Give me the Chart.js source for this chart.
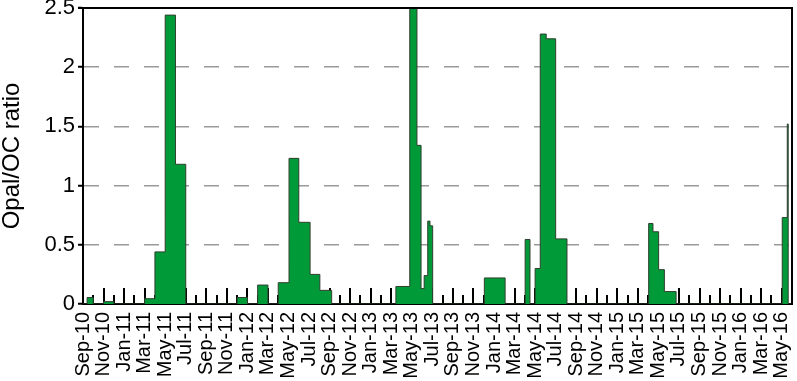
<!DOCTYPE html>
<html>
<head>
<meta charset="utf-8">
<script src="https://cdn.jsdelivr.net/npm/chart.js@4.4.0/dist/chart.umd.min.js"></script>
<style>
html, body { margin: 0; padding: 0; background: #fff; }
#wrap { width: 797px; height: 381px; }
</style>
</head>
<body>
<div id="wrap"><canvas id="ratioChart"></canvas></div>
<script>
// x axis is in months counted from Sep-10 (0) to Jun-16 (69)
const monthLabels = [
    'Sep-10', 'Nov-10', 'Jan-11', 'Mar-11', 'May-11', 'Jul-11', 'Sep-11', 'Nov-11',
    'Jan-12', 'Mar-12', 'May-12', 'Jul-12', 'Sep-12', 'Nov-12', 'Jan-13', 'Mar-13',
    'May-13', 'Jul-13', 'Sep-13', 'Nov-13', 'Jan-14', 'Mar-14', 'May-14', 'Jul-14',
    'Sep-14', 'Nov-14', 'Jan-15', 'Mar-15', 'May-15', 'Jul-15', 'Sep-15', 'Nov-15',
    'Jan-16', 'Mar-16', 'May-16'
];
const yTicks = [0, 0.5, 1, 1.5, 2, 2.5];

// one entry per trap sample: open / close (months) and Opal/OC ratio
const sampleStart = [
    0.4, 2.0, 6.0, 7.0, 8.0, 9.0, 15.0, 17.0, 19.0, 20.05, 21.0, 22.1, 23.05,
    30.45, 31.8, 32.5, 32.9, 33.2, 33.55, 33.77, 39.06, 43.03, 44.0, 44.5, 45.08, 46.0,
    55.05, 55.47, 56.02, 56.58, 68.05, 68.54
];
const sampleEnd = [
    1.0, 3.0, 7.0, 8.0, 9.0, 10.0, 16.0, 18.0, 20.05, 21.0, 22.1, 23.05, 24.2,
    31.8, 32.5, 32.9, 33.2, 33.55, 33.77, 34.03, 41.08, 43.5, 44.5, 45.08, 46.0, 47.1,
    55.47, 56.02, 56.58, 57.72, 68.54, 68.63
];
const opalOcRatio = [
    0.055, 0.02, 0.045, 0.44, 2.44, 1.18, 0.055, 0.16, 0.18, 1.23, 0.69, 0.25, 0.115,
    0.148, 2.9, 1.34, 0.13, 0.24, 0.70, 0.66, 0.22, 0.545, 0.30, 2.28, 2.24, 0.55,
    0.68, 0.61, 0.29, 0.105, 0.73, 1.52
];

const X_MAX = 69;

function buildSteps() {
    const pts = [{ x: 0, y: 0 }];
    for (let i = 0; i < opalOcRatio.length; i++) {
        pts.push({ x: sampleStart[i], y: opalOcRatio[i] });
        // drop back to zero where there is a gap before the next sample
        if (i === opalOcRatio.length - 1 || sampleStart[i + 1] > sampleEnd[i]) {
            pts.push({ x: sampleEnd[i], y: 0 });
        }
    }
    pts.push({ x: X_MAX, y: 0 });
    return pts;
}

// inward month ticks on the bottom axis, long on labelled months
const innerTicks = {
    id: 'innerTicks',
    beforeDatasetsDraw(chart) {
        const { ctx, chartArea, scales: { x } } = chart;
        ctx.save();
        ctx.strokeStyle = '#000';
        ctx.lineWidth = 2;
        for (let m = 1; m < X_MAX; m++) {
            const px = Math.round(x.getPixelForValue(m));
            const len = m % 2 === 0 ? 16 : 9;
            ctx.beginPath();
            ctx.moveTo(px, chartArea.bottom);
            ctx.lineTo(px, chartArea.bottom - len);
            ctx.stroke();
        }
        ctx.restore();
    }
};

// top and right edges of the box
const frame = {
    id: 'frame',
    afterDatasetsDraw(chart) {
        const { ctx, chartArea: a } = chart;
        ctx.save();
        ctx.strokeStyle = '#000';
        ctx.lineWidth = 2;
        ctx.beginPath();
        ctx.moveTo(a.left - 5, a.top);
        ctx.lineTo(a.right, a.top);
        ctx.lineTo(a.right, a.bottom);
        ctx.stroke();
        ctx.restore();
    }
};

const ctx = document.getElementById('ratioChart').getContext('2d');
new Chart(ctx, {
    type: 'line',
    data: {
        datasets: [{
            data: buildSteps(),
            stepped: true,
            fill: 'origin',
            backgroundColor: '#009a38',
            borderColor: '#2f3f2f',
            borderWidth: 1,
            pointRadius: 0,
            tension: 0
        }]
    },
    options: {
        responsive: true,
        maintainAspectRatio: false,
        animation: false,
        layout: { padding: { top: 8, right: 5, left: 0, bottom: 0 } },
        plugins: {
            legend: { display: false },
            tooltip: { enabled: false }
        },
        scales: {
            x: {
                type: 'linear',
                min: 0,
                max: X_MAX,
                afterBuildTicks: scale => {
                    scale.ticks = monthLabels.map((_, i) => ({ value: i * 2 }));
                },
                afterFit: scale => {
                    scale.height = 77;
                    scale.paddingLeft = 0;
                    scale.paddingRight = 0;
                },
                grid: { display: false, drawTicks: false },
                border: { display: true, color: '#000', width: 2 },
                ticks: {
                    autoSkip: false,
                    minRotation: 90,
                    maxRotation: 90,
                    padding: 8,
                    color: '#000',
                    font: { family: 'Liberation Sans, Arial, sans-serif', size: 20 },
                    callback: value => monthLabels[value / 2]
                }
            },
            y: {
                min: 0,
                max: 2.5,
                afterBuildTicks: scale => {
                    scale.ticks = yTicks.map(v => ({ value: v }));
                },
                afterFit: scale => {
                    scale.width = 83;
                    scale.paddingTop = 0;
                    scale.paddingBottom = 0;
                },
                grid: {
                    color: c => (c.tick && (c.tick.value === 0 || c.tick.value === 2.5)) ? 'rgba(0,0,0,0)' : '#9a9a9a',
                    lineWidth: 1.5,
                    tickColor: '#000',
                    tickLength: 5,
                    tickWidth: 2,
                    tickBorderDash: []
                },
                border: { color: '#000', width: 2, dash: [15, 15] },
                ticks: {
                    color: '#000',
                    padding: 3,
                    font: { family: 'Liberation Sans, Arial, sans-serif', size: 22 },
                    callback: value => String(value)
                },
                title: {
                    display: true,
                    text: 'Opal/OC ratio',
                    color: '#000',
                    padding: 0,
                    font: { family: 'Liberation Sans, Arial, sans-serif', size: 24, lineHeight: 1.0 }
                }
            }
        }
    },
    plugins: [innerTicks, frame]
});
</script>
</body>
</html>
